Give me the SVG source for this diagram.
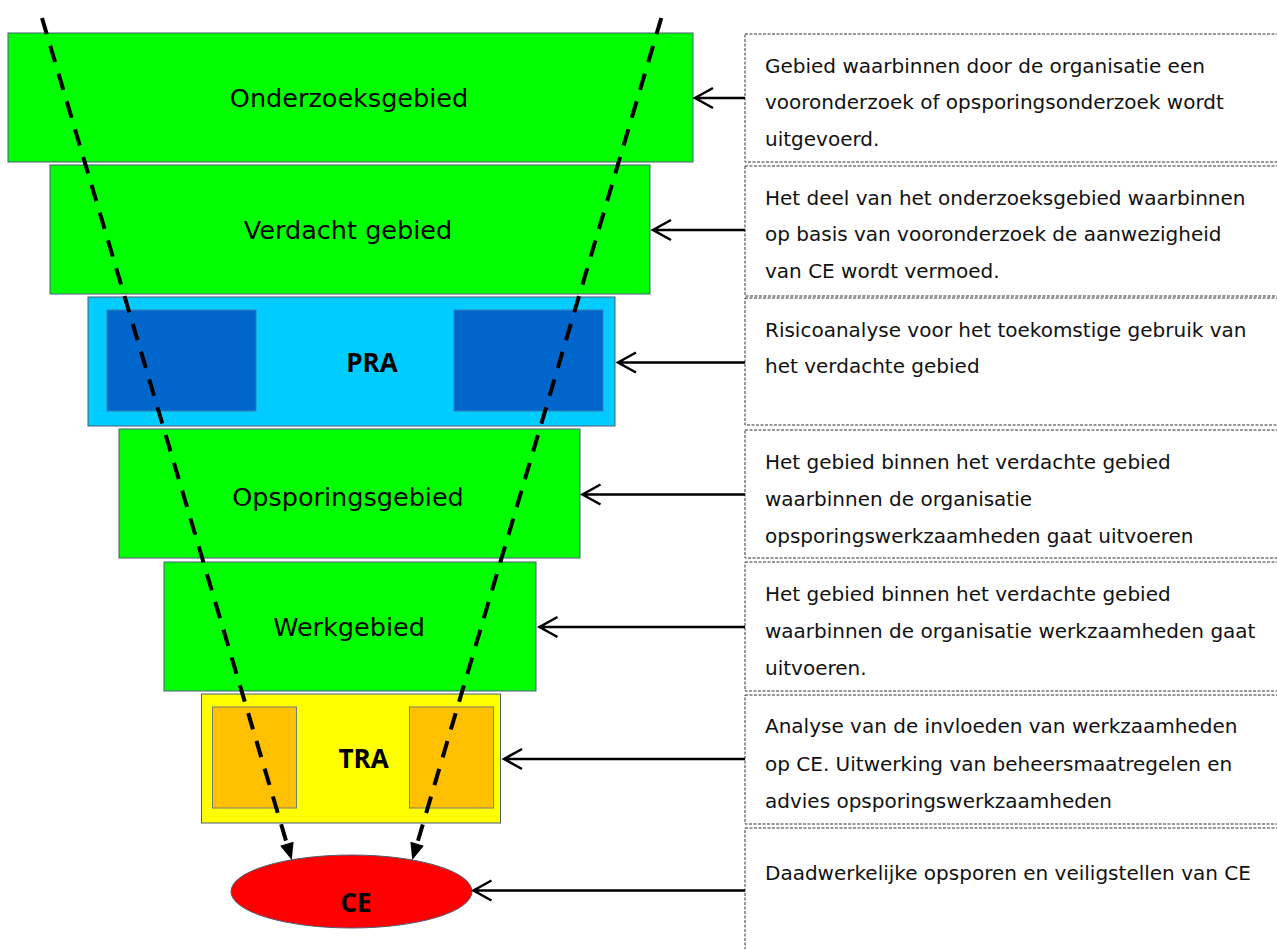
<svg xmlns="http://www.w3.org/2000/svg" width="1277" height="949" viewBox="0 0 1277 949">
<style>
.box{stroke:#4a5d78;stroke-width:1}
.green{fill:#00ff00}
.lbl{font-family:"DejaVu Sans",Verdana,sans-serif;font-size:25.5px;fill:#000;text-anchor:middle}
.blbl{font-family:"Open Sans","DejaVu Sans",sans-serif;font-size:26px;font-weight:bold;fill:#000;text-anchor:middle}
.desc{fill:#fff;stroke:#333;stroke-width:1;stroke-dasharray:3 1.5}
.dt{font-family:"DejaVu Sans",Verdana,sans-serif;font-size:20px;fill:#111}
.arr{fill:none;stroke:#000;stroke-width:2.5}
.funnel{fill:none;stroke:#000;stroke-width:4;stroke-dasharray:17 12}
</style>
<defs>
<marker id="tri" markerUnits="userSpaceOnUse" markerWidth="20" markerHeight="16" viewBox="0 -8 18 16" refX="0" refY="0" orient="auto">
<path d="M0,-7 L17,0 L0,7 z" fill="#000"/>
</marker>
</defs>
<rect width="1277" height="949" fill="#fff"/>

<g id="desc1"><rect class="desc" x="745" y="34" width="560" height="128"/>
<text class="dt" x="765" y="72.5">Gebied waarbinnen door de organisatie een</text>
<text class="dt" x="765" y="109">vooronderzoek of opsporingsonderzoek wordt</text>
<text class="dt" x="765" y="145.5">uitgevoerd.</text></g>
<g id="desc2"><rect class="desc" x="745" y="166" width="560" height="130"/>
<text class="dt" x="765" y="204.5">Het deel van het onderzoeksgebied waarbinnen</text>
<text class="dt" x="765" y="241">op basis van vooronderzoek de aanwezigheid</text>
<text class="dt" x="765" y="278">van CE wordt vermoed.</text></g>
<g id="desc3"><rect class="desc" x="745" y="298" width="560" height="127"/>
<text class="dt" x="765" y="337">Risicoanalyse voor het toekomstige gebruik van</text>
<text class="dt" x="765" y="373">het verdachte gebied</text></g>
<g id="desc4"><rect class="desc" x="745" y="430" width="560" height="128"/>
<text class="dt" x="765" y="469">Het gebied binnen het verdachte gebied</text>
<text class="dt" x="765" y="506">waarbinnen de organisatie</text>
<text class="dt" x="765" y="543">opsporingswerkzaamheden gaat uitvoeren</text></g>
<g id="desc5"><rect class="desc" x="745" y="562" width="560" height="129"/>
<text class="dt" x="765" y="601">Het gebied binnen het verdachte gebied</text>
<text class="dt" x="765" y="638">waarbinnen de organisatie werkzaamheden gaat</text>
<text class="dt" x="765" y="675">uitvoeren.</text></g>
<g id="desc6"><rect class="desc" x="745" y="695" width="560" height="129"/>
<text class="dt" x="765" y="733">Analyse van de invloeden van werkzaamheden</text>
<text class="dt" x="765" y="770.5">op CE. Uitwerking van beheersmaatregelen en</text>
<text class="dt" x="765" y="808">advies opsporingswerkzaamheden</text></g>
<g id="desc7"><rect class="desc" x="745" y="828" width="560" height="140"/>
<text class="dt" x="765" y="880">Daadwerkelijke opsporen en veiligstellen van CE</text></g>

<g id="onderzoeksgebied"><rect class="box green" x="8" y="33" width="685" height="129"/>
<text class="lbl" x="349" y="106.5">Onderzoeksgebied</text></g>
<g id="verdacht-gebied"><rect class="box green" x="50" y="165" width="600" height="129"/>
<text class="lbl" x="348" y="238.5">Verdacht gebied</text></g>
<g id="pra"><rect class="box" fill="#00ccff" x="88" y="297" width="527" height="129"/>
<rect fill="#0066cc" stroke="#3a7fb8" stroke-width="1" x="107" y="310" width="149" height="101"/>
<rect fill="#0066cc" stroke="#3a7fb8" stroke-width="1" x="454" y="310" width="149" height="101"/>
<text class="blbl" x="372" y="371.5">PRA</text></g>
<g id="opsporingsgebied"><rect class="box green" x="119" y="429" width="461" height="129"/>
<text class="lbl" x="348" y="505.5">Opsporingsgebied</text></g>
<g id="werkgebied"><rect class="box green" x="164" y="562" width="372" height="129"/>
<text class="lbl" x="349" y="636">Werkgebied</text></g>
<g id="tra"><rect class="box" fill="#ffff00" x="201.5" y="694" width="299" height="129"/>
<rect fill="#ffc000" stroke="#7a7a7a" stroke-width="1" x="212.5" y="707" width="84" height="101"/>
<rect fill="#ffc000" stroke="#7a7a7a" stroke-width="1" x="409.5" y="707" width="84" height="101"/>
<text class="blbl" x="363.5" y="768">TRA</text></g>
<g id="ce"><ellipse class="box" fill="#ff0000" stroke="#3a4a6a" cx="351.5" cy="891.5" rx="120.5" ry="36.5"/>
<text class="blbl" x="356" y="911.5">CE</text></g>

<g id="connectors">
<path class="funnel" d="M42,18 L286.9,843.7" marker-end="url(#tri)"/>
<path class="funnel" d="M661.3,18 L417.1,843.7" marker-end="url(#tri)"/>
<path class="arr" d="M745,98 H695 M713,88 L695,98 L713,108"/>
<path class="arr" d="M745,230 H653 M671,220 L653,230 L671,240"/>
<path class="arr" d="M745,362.5 H618 M636,352.5 L618,362.5 L636,372.5"/>
<path class="arr" d="M745,494.5 H582.5 M600.5,484.5 L582.5,494.5 L600.5,504.5"/>
<path class="arr" d="M745,627 H539.5 M557.5,617 L539.5,627 L557.5,637"/>
<path class="arr" d="M745,759 H504 M522,749 L504,759 L522,769"/>
<path class="arr" d="M745,890.5 H473.5 M491.5,880.5 L473.5,890.5 L491.5,900.5"/>
</g>
</svg>
